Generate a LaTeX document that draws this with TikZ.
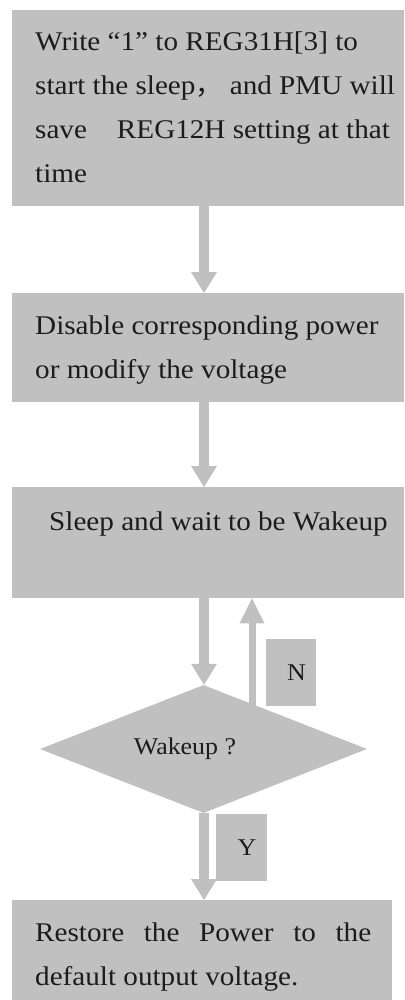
\documentclass[tikz,border=0pt]{standalone}
\usepackage{fontspec}
\setmainfont{Liberation Serif}[FakeStretch=1.08]
\newfontfamily\cjk{Noto Sans CJK SC}
\usetikzlibrary{arrows.meta,shapes.geometric}
\definecolor{boxgray}{RGB}{192,192,192}
\definecolor{ink}{RGB}{28,28,28}
% #1 width, #2 height, #3 top offset, #4 left offset, #5 lines
\newcommand\panel[5]{\parbox[c][#2pt][t]{#1pt}{\vspace*{#3pt}\hspace*{#4pt}\begin{tabular}[t]{@{}l@{}}#5\end{tabular}}}
\begin{document}
\begin{tikzpicture}[x=1pt,y=-1pt,
  box/.style={fill=boxgray, inner sep=0pt, anchor=north west, text=ink,
    font=\fontsize{27}{44}\selectfont},
  decision/.style={diamond, fill=boxgray, inner sep=0pt, aspect=2.55,
    minimum width=327pt, minimum height=128pt, text=ink,
    font=\fontsize{24}{28}\selectfont},
  tag/.style={fill=boxgray, inner sep=0pt, minimum width=50pt,
    minimum height=67pt, text=ink, font=\fontsize{24}{28}\selectfont},
  flow/.style={draw=boxgray, line width=10pt,
    -{Triangle[width=26pt,length=21pt,line width=0pt]}},
  flowup/.style={draw=boxgray, line width=7pt,
    -{Triangle[width=25pt,length=25pt,line width=0pt]}}]
\useasboundingbox (0,0) rectangle (404,1000);
\node[box] (b1) at (12,10) {\panel{392}{196}{9.9}{23}{Write “1” to REG31H[3] to\\ start the sleep{\cjk ，} and PMU will\\ save\hspace{30pt}REG12H setting at that\\ time}};
\node[box] (b2) at (12,293) {\panel{392}{109}{10.2}{23}{Disable corresponding power\\ or modify the voltage}};
\node[box] (b3) at (12,487) {\panel{392}{111}{12.2}{37}{Sleep and wait to be Wakeup}};
\node[decision] (d) at (203.5,749) {Wakeup ?\hspace*{37pt}};
\node[tag] (n) at (291,672.5) {\hspace*{11pt}N};
\node[tag, minimum width=51pt] (y) at (241.5,847.5) {\hspace*{11pt}Y};
\node[box] (b5) at (12,900) {\panel{380}{100}{10.2}{23}{\makebox[336pt][s]{Restore the Power to the}\\ default output voltage.}};
\coordinate (ax) at (204,0);
\coordinate (ux) at (252,0);
\coordinate (nfoot) at (252,707);
\draw[flow] (b1.south -| ax) -- (b2.north -| ax);
\draw[flow] (b2.south -| ax) -- (b3.north -| ax);
\draw[flow] (b3.south -| ax) -- (d.north -| ax);
\draw[flowup] (nfoot) -- (b3.south -| ux);
\draw[flow] (d.south -| ax) -- (b5.north -| ax);
\end{tikzpicture}
\end{document}
